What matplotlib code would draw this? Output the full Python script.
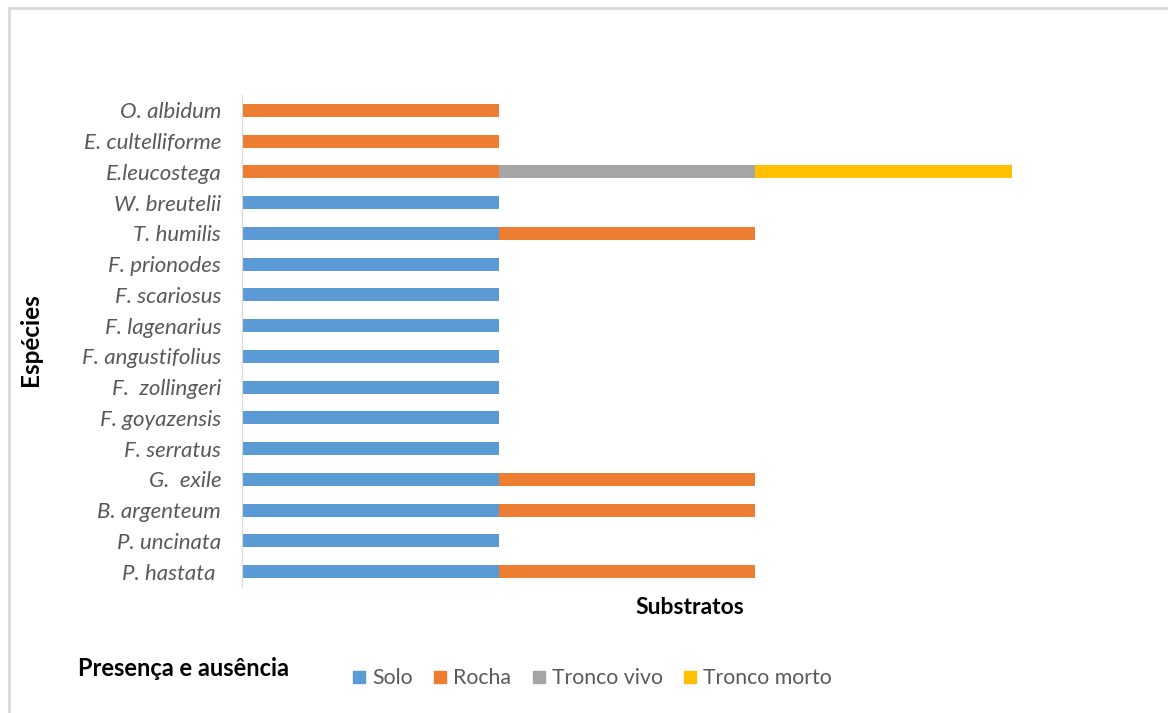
import matplotlib.pyplot as plt
import numpy as np
from matplotlib.lines import Line2D

# species listed bottom to top
especies = ['P. hastata ', 'P. uncinata', 'B. argenteum', 'G.  exile', 'F. serratus',
            'F. goyazensis', 'F.  zollingeri', 'F. angustifolius', 'F. lagenarius',
            'F. scariosus', 'F. prionodes', 'T. humilis', 'W. breutelii',
            'E.leucostega', 'E. cultelliforme', 'O. albidum']
solo = [1, 1, 1, 1, 1, 1, 1, 1, 1, 1, 1, 1, 1, 0, 0, 0]
rocha = [1, 0, 1, 1, 0, 0, 0, 0, 0, 0, 0, 1, 0, 1, 1, 1]
tronco_vivo = [0, 0, 0, 0, 0, 0, 0, 0, 0, 0, 0, 0, 0, 1, 0, 0]
tronco_morto = [0, 0, 0, 0, 0, 0, 0, 0, 0, 0, 0, 0, 0, 1, 0, 0]

series = [('Solo', solo, '#5B9BD5'), ('Rocha', rocha, '#ED7D31'),
          ('Tronco vivo', tronco_vivo, '#A5A5A5'), ('Tronco morto', tronco_morto, '#FFC000')]

plt.rcParams['font.family'] = ['Lato', 'DejaVu Sans']

fig = plt.figure(figsize=(11.68, 7.13), dpi=100)
ax = fig.add_axes([242 / 1168, 1 - 587 / 713, 896 / 1168, (587 - 95) / 713])

y = np.arange(len(especies))
left = np.zeros(len(especies))
for nome, vals, cor in series:
    ax.barh(y, vals, left=left, height=0.42, color=cor, label=nome)
    left += np.array(vals)

ax.set_xlim(0, 3.49)
ax.set_ylim(-0.5, len(especies) - 0.5)
ax.set_yticks(y)
ax.set_yticklabels(especies, fontsize=16, style='italic', color='#595959')
ax.tick_params(axis='y', length=0, pad=15)
ax.set_xticks([])
for s in ['top', 'right', 'bottom']:
    ax.spines[s].set_visible(False)
ax.spines['left'].set_color('#D9D9D9')

fig.text(690 / 1168, 1 - 608 / 713, 'Substratos', ha='center', va='center',
         fontsize=16.5, fontweight='bold', color='black')
fig.text(30 / 1168, 1 - 340 / 713, 'Espécies', ha='center', va='center',
         rotation=90, fontsize=17.5, fontweight='bold', color='black')
fig.text(78 / 1168, 1 - 668 / 713, 'Presença e ausência', ha='left', va='center',
         fontsize=17, fontweight='bold', color='black')

handles = [Line2D([], [], marker='s', linestyle='none', markersize=8,
                  markerfacecolor=c, markeredgecolor=c) for _, _, c in series]
leg = fig.legend(handles, [n for n, _, _ in series], ncol=4, frameon=False,
                 loc='center left', bbox_to_anchor=(335 / 1168, 1 - 678 / 713),
                 fontsize=15.3, handlelength=0.5, handletextpad=0.35, columnspacing=1.05,
                 labelcolor='#595959')

# outer chart frame
fig.add_artist(Line2D([9 / 1168, 1], [1 - 8 / 713, 1 - 8 / 713], color='#D9D9D9', lw=2))
fig.add_artist(Line2D([9 / 1168, 9 / 1168], [0, 1 - 8 / 713], color='#D9D9D9', lw=2))

fig.savefig('out.png', dpi=100)
